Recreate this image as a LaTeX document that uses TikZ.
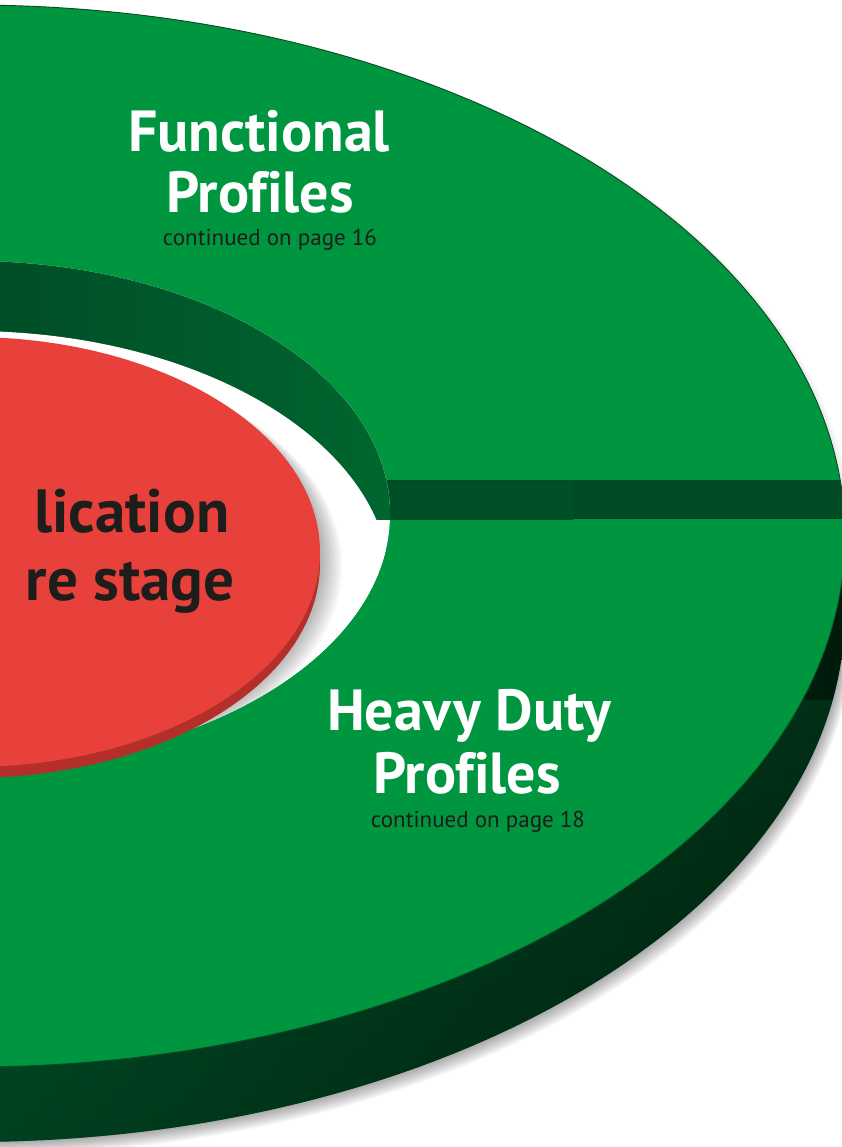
\documentclass[tikz,border=0pt]{standalone}
\usepackage{fontspec}
\setmainfont[Ligatures=NoCommon]{PT Sans}
\definecolor{topgreen}{HTML}{00953F}
\definecolor{edgegreen}{HTML}{0B4A22}
\definecolor{wallL}{HTML}{004E26}
\definecolor{wallR}{HTML}{00662F}
\definecolor{bandgreen}{HTML}{004A24}
\definecolor{bandL}{HTML}{004F27}
\definecolor{sideL}{HTML}{00552B}
\definecolor{sideR}{HTML}{001A0B}
\definecolor{redtop}{HTML}{E8403B}
\definecolor{redside}{HTML}{B52F2A}
\definecolor{inkdark}{HTML}{1D1D1B}
\begin{document}
\begin{tikzpicture}[x=1pt,y=-1pt,
  headw/.style={font=\bfseries\fontsize{58}{59}\selectfont, text=white, inner sep=0pt, anchor=base},
  headk/.style={font=\bfseries\fontsize{61}{62}\selectfont, text=inkdark, inner sep=0pt, anchor=base},
  subt/.style={font=\fontsize{23}{24}\selectfont, text=inkdark, inner sep=0pt, anchor=base}]
\useasboundingbox (0,0) rectangle (841,1147);
\fill[white] (0,0) rectangle (841,1147);
% soft shadow of the ring
\foreach \i in {1,...,10}{
  \fill[black,opacity=0.035] ({-30+0.9*\i},{611+1.3*\i}) ellipse [x radius=875pt, y radius=531pt];
}
\foreach \i in {1,...,5}{
  \fill[black,opacity=0.015] ({-30+1.5*\i},{536+0.5*\i}) ellipse [x radius=875pt, y radius=531pt];
}
% outer side face
\begin{scope}
  \clip (-30,611) ellipse [x radius=875pt, y radius=531pt];
  \shade[left color=sideL, right color=sideR] (0,450) rectangle (845,1147);
  \shade[top color=sideL, bottom color=sideR, opacity=0.35] (0,700) rectangle (845,1147);
\end{scope}
% top surface of the ring
\fill[topgreen] (-30,536) ellipse [x radius=875pt, y radius=531pt];
\draw[edgegreen, line width=0.9pt] (-30,536) ellipse [x radius=875pt, y radius=531pt];
% split band
\begin{scope}
  \clip (-30,536) ellipse [x radius=875pt, y radius=531pt];
  \fill[bandgreen] (386,480) rectangle (845,519);
  \fill[bandL] (386,482) rectangle (573,520);
\end{scope}
% hole with inner wall
\begin{scope}
  \clip (-30,514) ellipse [x radius=420pt, y radius=253pt];
  \fill[white] (-460,250) rectangle (400,780);
  \begin{scope}
    \clip (-460,200) rectangle (400,519);
    \shade[left color=wallL, right color=wallR] (0,250) rectangle (392,519);
  \end{scope}
  \fill[white] (-30,584) ellipse [x radius=420pt, y radius=253pt];
  \foreach \i in {1,...,10}{
    \fill[black,opacity=0.03] ({-30+2.2*\i},{558+0.8*\i}) ellipse [x radius=350pt, y radius=215pt];
  }
\end{scope}
% red disk
\fill[redside] (-30,563) ellipse [x radius=350pt, y radius=215pt];
\fill[redtop] (-30,552) ellipse [x radius=350pt, y radius=215pt];
% texts
\node[headw] (fp1) at (259,152) {Functional};
\node[headw] (fp2) at (260,213) {Profiles};
\node[subt] (fp3) at (270,246) {continued on page 16};
\node[headk] (ap1) at (132,532) {lication};
\node[headk] (ap2) at (130,600) {re stage};
\node[headw] (hd1) at (469,730) {Heavy Duty};
\node[headw] (hd2) at (467,793) {Profiles};
\node[subt] (hd3) at (478,827) {continued on page 18};
\end{tikzpicture}
\end{document}
